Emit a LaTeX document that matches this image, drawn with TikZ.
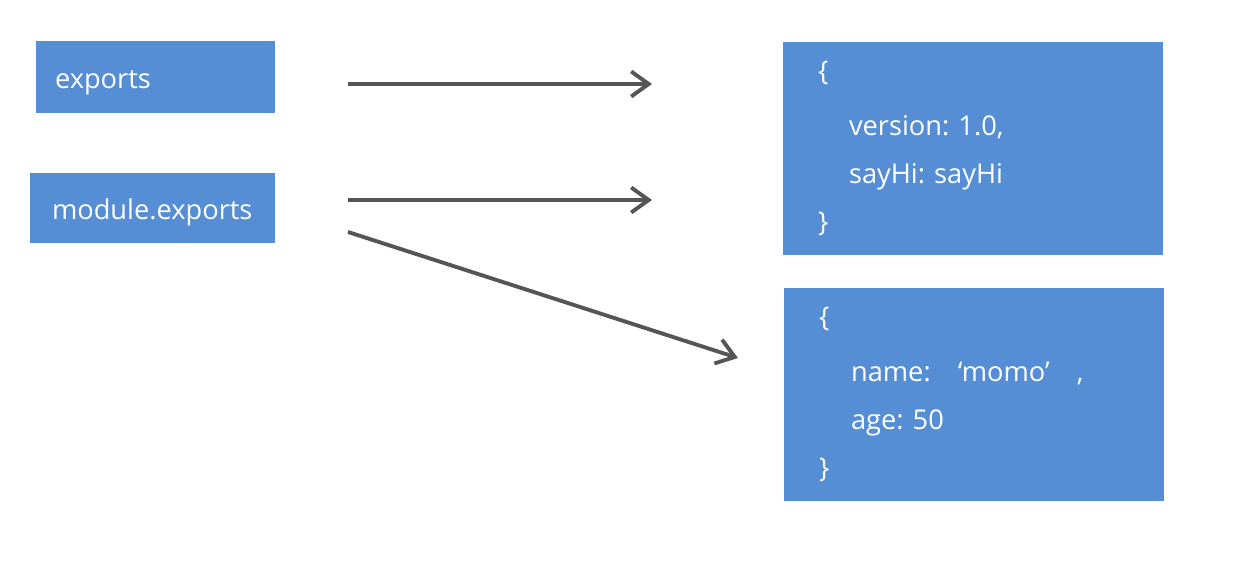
\documentclass[tikz,border=0pt]{standalone}
\usepackage{fontspec}
\setmainfont{Open Sans}
\usepackage{xcolor}
\usetikzlibrary{arrows.meta,positioning}
\definecolor{boxblue}{HTML}{558ED5}
\definecolor{arrgray}{HTML}{555555}
\frenchspacing

\begin{document}
\begin{tikzpicture}[
  x=0.02cm, y=-0.02cm,
  txt/.style={font=\fontsize{15.5}{27.4}\selectfont,text=white},
  var/.style={txt,fill=boxblue,align=left,inner ysep=0pt,
    text height=17pt,text depth=3.7pt},
  obj/.style={txt,fill=boxblue,align=left,minimum width=7.6cm,minimum height=4.26cm,
    text width=6.2cm,inner xsep=0.7cm,inner ysep=0pt,
    execute at begin node={\vspace*{0.14cm}}},
  arr/.style={-{Straight Barb[length=3.5mm,width=5mm]},line width=2.2pt,draw=arrgray}
]
\useasboundingbox (0,0) rectangle (1250,580);
\node[var,minimum height=1.44cm,text width=4.02cm,inner xsep=0.38cm] (exp) at (155.5,77) {exports};
\node[var,minimum height=1.4cm,text width=4.02cm,inner xsep=0.44cm] (mexp) at (152.5,208) {module.exports};
\node[obj] (obja) at (973,148.5) {\{\\\hspace*{0.62cm}version: 1.0,\\\hspace*{0.62cm}sayHi: sayHi\\\}};
\node[obj] (objb) at (974,394.5) {\{\\\hspace*{0.64cm}name:\quad`momo'\quad,\\\hspace*{0.64cm}age: 50\\\}};
\coordinate (s1) at (348,84);
\coordinate (e1) at (652,84);
\coordinate (s2) at (348,200);
\coordinate (e2) at (652,200);
\coordinate (s3) at (348,232);
\coordinate (e3) at (738,358);
\draw[arr] (s1)--(e1);
\draw[arr] (s2)--(e2);
\draw[arr] (s3)--(e3);
\end{tikzpicture}
\end{document}
